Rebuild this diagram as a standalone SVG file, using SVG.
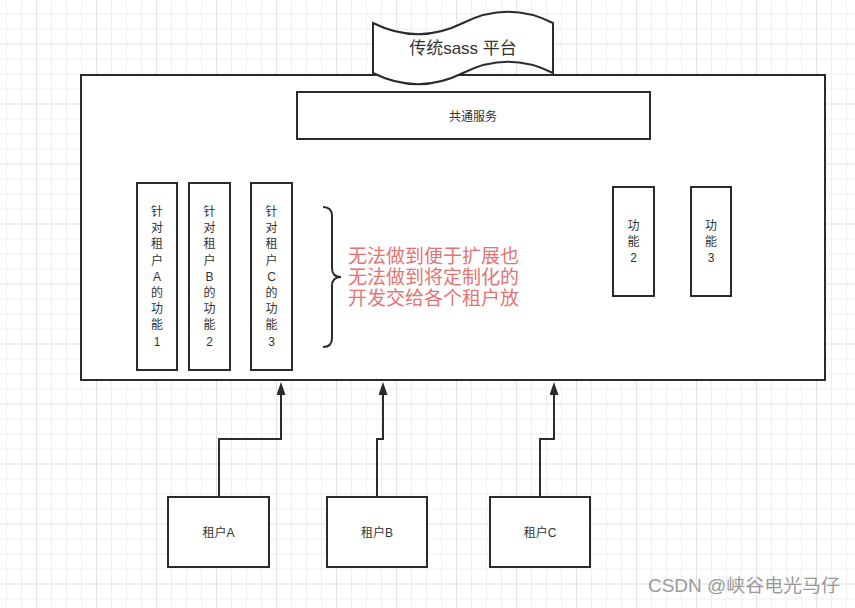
<svg xmlns="http://www.w3.org/2000/svg" width="855" height="608" viewBox="0 0 855 608">
<style>
  .box { fill: #ffffff; stroke: #2b2b2b; stroke-width: 2; }
  .lbl { font-family: "Liberation Sans", "Noto Sans CJK SC", sans-serif; font-size: 12px; fill: #333333; text-anchor: middle; }
  .title { font-family: "Liberation Sans", "Noto Sans CJK SC", sans-serif; font-size: 17px; fill: #333333; text-anchor: middle; }
  .note { font-family: "Liberation Sans", "Noto Sans CJK SC", sans-serif; font-size: 19px; fill: #e57373; }
  .wm { font-family: "Liberation Sans", "Noto Sans CJK SC", sans-serif; font-size: 18px; fill: #9a9a9a; }
  .conn { fill: none; stroke: #2b2b2b; stroke-width: 2; }
</style>
<defs>
  <pattern id="grid" patternUnits="userSpaceOnUse" x="6" y="13.5" width="60" height="60">
    <path d="M0.5,0 V60 M15.5,0 V60 M45.5,0 V60 M0,0.5 H60 M0,15.5 H60 M0,45.5 H60" stroke="#efefef" stroke-width="1" fill="none"/>
    <path d="M30.5,0 V60 M0,30.5 H60" stroke="#e3e3e3" stroke-width="1" fill="none"/>
  </pattern>
  <marker id="arrow" markerUnits="userSpaceOnUse" markerWidth="14" markerHeight="10" refX="0" refY="4.5" orient="auto">
    <path d="M0,0 L13,4.5 L0,9 Z" fill="#2b2b2b"/>
  </marker>
</defs>
<rect x="0" y="0" width="855" height="608" fill="#ffffff"/>
<rect x="0" y="0" width="855" height="608" fill="url(#grid)"/>

<g id="platform">
  <rect class="box" x="81" y="75" width="744" height="305"/>
</g>

<g id="title">
  <path class="box" d="M373,23 Q418,45.4 463,23 Q508,0.6 553,23 L553,73 Q508,50.6 463,73 Q418,95.4 373,73 Z"/>
  <text class="title" x="463" y="54">传统sass 平台</text>
</g>

<g id="common">
  <rect class="box" x="297" y="92" width="353" height="47"/>
  <text class="lbl" x="473" y="121">共通服务</text>
</g>

<g id="funcA">
  <rect class="box" x="137" y="183" width="40" height="187"/>
  <text class="lbl" x="157">
    <tspan x="157" y="216">针</tspan><tspan x="157" y="232.2">对</tspan><tspan x="157" y="248.4">租</tspan><tspan x="157" y="264.6">户</tspan><tspan x="157" y="280.8">A</tspan><tspan x="157" y="297">的</tspan><tspan x="157" y="313.2">功</tspan><tspan x="157" y="329.4">能</tspan><tspan x="157" y="345.6">1</tspan>
  </text>
</g>

<g id="funcB">
  <rect class="box" x="189" y="183" width="41" height="187"/>
  <text class="lbl" x="209.5">
    <tspan x="209.5" y="216">针</tspan><tspan x="209.5" y="232.2">对</tspan><tspan x="209.5" y="248.4">租</tspan><tspan x="209.5" y="264.6">户</tspan><tspan x="209.5" y="280.8">B</tspan><tspan x="209.5" y="297">的</tspan><tspan x="209.5" y="313.2">功</tspan><tspan x="209.5" y="329.4">能</tspan><tspan x="209.5" y="345.6">2</tspan>
  </text>
</g>

<g id="funcC">
  <rect class="box" x="251" y="183" width="41" height="187"/>
  <text class="lbl" x="271.5">
    <tspan x="271.5" y="216">针</tspan><tspan x="271.5" y="232.2">对</tspan><tspan x="271.5" y="248.4">租</tspan><tspan x="271.5" y="264.6">户</tspan><tspan x="271.5" y="280.8">C</tspan><tspan x="271.5" y="297">的</tspan><tspan x="271.5" y="313.2">功</tspan><tspan x="271.5" y="329.4">能</tspan><tspan x="271.5" y="345.6">3</tspan>
  </text>
</g>

<g id="brace">
  <path class="conn" d="M323,207 Q332,207 332,216 L332,268 Q332,277 341,277 Q332,277 332,286 L332,338 Q332,347 323,347"/>
  <text class="note">
    <tspan x="348" y="263">无法做到便于扩展也</tspan><tspan x="348" y="284">无法做到将定制化的</tspan><tspan x="348" y="305">开发交给各个租户放</tspan>
  </text>
</g>

<g id="func2">
  <rect class="box" x="613" y="187" width="41" height="109"/>
  <text class="lbl">
    <tspan x="633.5" y="230">功</tspan><tspan x="633.5" y="246">能</tspan><tspan x="633.5" y="262">2</tspan>
  </text>
</g>

<g id="func3">
  <rect class="box" x="691" y="187" width="40" height="109"/>
  <text class="lbl">
    <tspan x="711" y="230">功</tspan><tspan x="711" y="246">能</tspan><tspan x="711" y="262">3</tspan>
  </text>
</g>

<g id="tenantA">
  <rect class="box" x="168" y="497" width="101" height="70"/>
  <text class="lbl" x="218.5" y="536.5">租户A</text>
</g>
<g id="tenantB">
  <rect class="box" x="327" y="497" width="100" height="70"/>
  <text class="lbl" x="377" y="536.5">租户B</text>
</g>
<g id="tenantC">
  <rect class="box" x="490" y="497" width="100" height="70"/>
  <text class="lbl" x="540" y="536.5">租户C</text>
</g>

<g id="connectors">
  <path class="conn" d="M219,497 V439 H281 V395" marker-end="url(#arrow)"/>
  <path class="conn" d="M377,497 V439 H383 V395" marker-end="url(#arrow)"/>
  <path class="conn" d="M540,497 V439 H554 V395" marker-end="url(#arrow)"/>
</g>

<text class="wm" x="648" y="592" textLength="192" lengthAdjust="spacingAndGlyphs">CSDN @峡谷电光马仔</text>
</svg>
